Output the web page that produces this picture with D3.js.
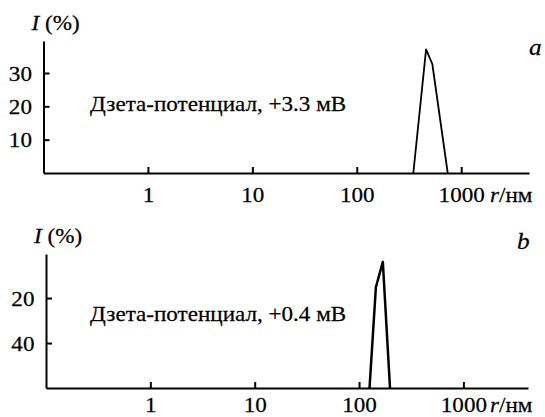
<!DOCTYPE html>
<html>
<head>
<meta charset="utf-8">
<script src="https://cdn.jsdelivr.net/npm/d3@7"></script>
<style>
body { margin: 0; background: #fff; }
text { font-family: "Liberation Serif", "Times New Roman", serif; font-size: 22px; fill: #000; stroke: #000; stroke-width: 0.25px; }
.domain, .tick line { stroke: #000; stroke-width: 2; }
</style>
</head>
<body>
<svg id="chart" width="545" height="417"></svg>
<script>
// data
var xTicks = [1, 10, 100, 1000];
var yTicksA = [10, 20, 30];
var yLabelsA = ["10", "20", "30"];
var yTicksB = [20, 40];
var yLabelsB = ["40", "20"]; // the source prints them in this order
var rA = [348, 461, 529, 743];
var iA = [0, 37.1, 32.7, 0];
var rB = [126, 145, 169, 198];
var iB = [0, 44.8, 56.1, 0];
var noteA = "Дзета-потенциал, +3.3 мВ";
var noteB = "Дзета-потенциал, +0.4 мВ";

var sx = 1.05; // scan is a little wider than the font

var svg = d3.select("#chart");

function label(x, y, size) {
    return svg.append("text")
        .attr("transform", "translate(" + x + "," + y + ") scale(" + sx + ",1)")
        .style("font-size", size + "px");
}

function drawPanel(p, r, vals, yTicks, yLabels, note, tag) {
    var x = d3.scaleLog()
        .domain([0.1, p.xMax])
        .range([p.x0, p.x1]);
    var y = d3.scaleLinear()
        .domain([0, p.yMax])
        .range([p.base, p.top]);

    var gx = svg.append("g")
        .attr("transform", "translate(0," + p.base + ")")
        .call(d3.axisBottom(x)
            .tickValues(xTicks)
            .tickFormat(d3.format("d"))
            .tickSizeInner(-6)
            .tickSizeOuter(0)
            .tickPadding(p.xPad));
    gx.selectAll("text").attr("transform", "scale(" + sx + ",1)");

    var gy = svg.append("g")
        .attr("transform", "translate(" + p.x0 + ",0)")
        .call(d3.axisLeft(y)
            .tickValues(yTicks)
            .tickFormat(function(d, i) { return yLabels[i]; })
            .tickSizeInner(-6)
            .tickSizeOuter(0)
            .tickPadding(11));
    gy.selectAll("text").attr("transform", "scale(" + sx + ",1)");

    var line = d3.line()
        .x(function(d, i) { return x(r[i]); })
        .y(function(d) { return y(d); });

    svg.append("path")
        .datum(vals)
        .attr("fill", "none")
        .attr("stroke", "#000")
        .attr("stroke-width", p.lw)
        .attr("stroke-linejoin", "round")
        .attr("d", line);

    var t = label(p.x0 - 12, p.top - 11, 22);
    t.append("tspan").style("font-style", "italic").text("I");
    t.append("tspan").text(" (%)");

    label(p.noteX, p.noteY, 22).text(note);

    var u = label(p.unitX, p.base + p.xPad + 15.6, 22);
    u.append("tspan").style("font-style", "italic").text("r");
    u.append("tspan").text("/нм");

    label(p.tagX, p.tagY, 24).style("font-style", "italic").text(tag);
}

drawPanel({x0: 43.5, x1: 529, xMax: 4460, base: 173, top: 41, yMax: 39.6,
           xPad: 13, lw: 1.8, noteX: 90, noteY: 111, unitX: 490, tagX: 529, tagY: 55},
          rA, iA, yTicksA, yLabelsA, noteA, "a");

drawPanel({x0: 46, x1: 528, xMax: 4160, base: 388, top: 254, yMax: 59.6,
           xPad: 8, lw: 2.5, noteX: 90, noteY: 321, unitX: 490, tagX: 517, tagY: 249},
          rB, iB, yTicksB, yLabelsB, noteB, "b");
</script>
</body>
</html>
